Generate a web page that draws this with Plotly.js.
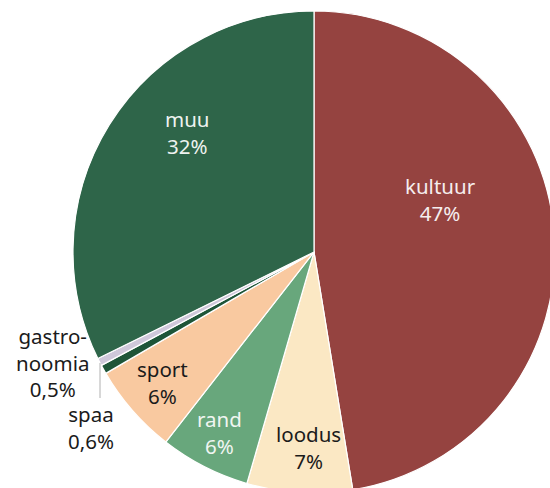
<!DOCTYPE html>
<html>
<head>
<meta charset="utf-8">
<script src="https://cdn.plot.ly/plotly-3.0.1.min.js"></script>
<style>
  html, body { margin: 0; padding: 0; background: #ffffff; overflow: hidden; width: 550px; height: 488px; }
  #chart { position: absolute; left: 0; top: 0; }
</style>
</head>
<body>
<div id="chart"></div>
<script>
// ---- data ----
const labels = ['kultuur', 'loodus', 'rand', 'sport', 'spaa', 'gastronoomia', 'muu'];
const displayLabels = ['kultuur', 'loodus', 'rand', 'sport', 'spaa', 'gastro-<br>noomia', 'muu'];
const values = [47, 7, 6, 6, 0.6, 0.5, 32];
const colors = ['#954340', '#fbe8c4', '#68a77c', '#f9c9a0', '#1e5538', '#cfc8da', '#2e6549'];
const textColors = ['#f5eeee', '#1b1b1b', '#f0f5f1', '#1b1b1b', '#1b1b1b', '#1b1b1b', '#eef3f0'];

// ---- layout geometry (pixels) ----
const W = 560, H = 494;
const cx = 314, cy = 252, R = 241;
const FONT = 'Noto Sans, Open Sans, sans-serif';
const FSIZE = 20.5;

// label block centers (pixels) - placement only
const labelPos = {
  'kultuur': [440, 199],
  'loodus': [308, 447],
  'rand': [219, 432],
  'sport': [162, 382],
  'spaa': [91, 427],
  'gastronoomia': [52, 362],
  'muu': [187, 133]
};

function fmt(v) { return String(v).replace('.', ','); }

const annotations = labels.map((lab, i) => {
  const p = labelPos[lab];
  return {
    xref: 'paper', yref: 'paper',
    x: p[0] / W, y: 1 - p[1] / H,
    xanchor: 'center', yanchor: 'middle',
    text: displayLabels[i] + '<br>' + fmt(values[i]) + '%',
    showarrow: false,
    align: 'center',
    borderpad: 0,
    font: { family: FONT, size: FSIZE, color: textColors[i] }
  };
});

const trace = {
  type: 'pie',
  labels: labels,
  values: values,
  textinfo: 'none',
  sort: false,
  direction: 'clockwise',
  rotation: 0,
  hole: 0,
  marker: { colors: colors, line: { color: '#ffffff', width: 1.2 } },
  domain: { x: [(cx - R) / W, (cx + R) / W], y: [(H - cy - R) / H, (H - cy + R) / H] },
  showlegend: false,
  hoverinfo: 'label+value'
};

const layout = {
  width: W, height: H,
  margin: { l: 0, r: 0, t: 0, b: 0 },
  paper_bgcolor: '#ffffff',
  separators: ', ',
  showlegend: false,
  annotations: annotations,
  shapes: [{
    type: 'line', xref: 'paper', yref: 'paper',
    x0: 100 / W, x1: 100 / W, y0: 1 - 363 / H, y1: 1 - 398 / H,
    line: { color: '#b0b0b0', width: 1 }
  }]
};

Plotly.newPlot('chart', [trace], layout, { displayModeBar: false, staticPlot: true });
</script>
</body>
</html>
